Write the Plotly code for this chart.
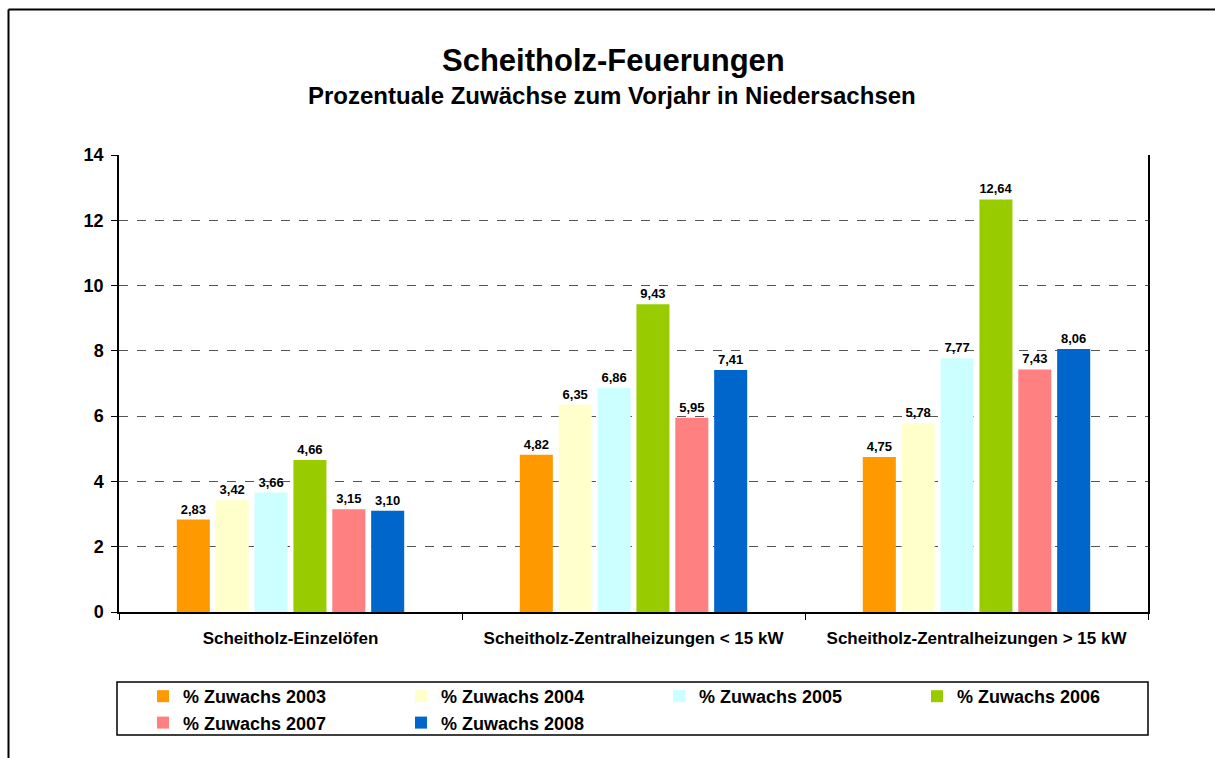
import plotly.graph_objects as go

categories = ["Scheitholz-Einzelöfen", "Scheitholz-Zentralheizungen < 15 kW", "Scheitholz-Zentralheizungen > 15 kW"]
series_names = ["% Zuwachs 2003", "% Zuwachs 2004", "% Zuwachs 2005", "% Zuwachs 2006", "% Zuwachs 2007", "% Zuwachs 2008"]
z2003 = [2.83, 4.82, 4.75]
z2004 = [3.42, 6.35, 5.78]
z2005 = [3.66, 6.86, 7.77]
z2006 = [4.66, 9.43, 12.64]
z2007 = [3.15, 5.95, 7.43]
z2008 = [3.10, 7.41, 8.06]
series_values = [z2003, z2004, z2005, z2006, z2007, z2008]
colors = ["#FF9900", "#FFFFCC", "#CCFFFF", "#99CC00", "#FF8080", "#0066CC"]
y_ticks = [0, 2, 4, 6, 8, 10, 12, 14]

FONT = "Liberation Sans, Arial, sans-serif"

fig = go.Figure()
for name, vals, col in zip(series_names, series_values, colors):
    fig.add_trace(go.Bar(
        x=categories, y=vals, name=name,
        marker=dict(color=col, line=dict(width=0)),
        texttemplate="%{y:.2f}", textposition="outside",
        textfont=dict(family=FONT, size=13, color="black", weight="bold"),
        cliponaxis=False,
    ))

W, H = 1215, 758
# screen coordinates of the plot area
SL, SR, ST, SB = 119, 1148, 155, 612
L, T, R, B = SL, ST, W - SR, H - SB
pw, ph = W - L - R, H - T - B

def px_x(x):
    return (x - L) / pw

def px_y(y):
    return (H - B - y) / ph

fig.update_layout(
    width=W, height=H,
    margin=dict(l=L, r=R, t=T, b=B),
    paper_bgcolor="white", plot_bgcolor="white",
    separators=",.",
    barmode="group", bargap=0.32, bargroupgap=0.15,
    font=dict(family=FONT, color="black"),
    showlegend=True,
    legend=dict(
        orientation="h", xref="container", yref="container",
        x=143 / W, y=1 - 678 / H, xanchor="left", yanchor="top",
        entrywidth=213, entrywidthmode="pixels",
        font=dict(family=FONT, size=18, color="black", weight="bold"),
        bgcolor="rgba(0,0,0,0)", borderwidth=0,
        tracegroupgap=0,
    ),
    xaxis=dict(
        showline=True, linecolor="black", linewidth=1.5,
        ticks="outside", tickson="boundaries", ticklen=6, tickcolor="black",
        tickfont=dict(family=FONT, size=17, color="black", weight="bold"),
        ticklabelstandoff=10,
        showgrid=False,
    ),
    yaxis=dict(
        range=[0, 14], tickvals=y_ticks,
        showline=True, linecolor="black", linewidth=1.5, mirror=True,
        ticks="outside", ticklen=6, tickcolor="black",
        tickfont=dict(family=FONT, size=18, color="black", weight="bold"),
        ticklabelstandoff=4,
        showgrid=True, gridcolor="#555555", griddash="dash", gridwidth=1,
        zeroline=False,
    ),
    annotations=[
        dict(text="Scheitholz-Feuerungen", xref="paper", yref="paper",
             x=px_x(613), y=px_y(60), showarrow=False,
             font=dict(family=FONT, size=31, color="black", weight="bold"),
             xanchor="center", yanchor="middle"),
        dict(text="Prozentuale Zuwächse zum Vorjahr in Niedersachsen", xref="paper", yref="paper",
             x=px_x(612), y=px_y(96), showarrow=False,
             font=dict(family=FONT, size=24, color="black", weight="bold"),
             xanchor="center", yanchor="middle"),
    ],
    shapes=[
        dict(type="rect", xref="paper", yref="paper",
             x0=px_x(117), x1=px_x(1148), y0=px_y(682), y1=px_y(735),
             line=dict(color="black", width=1.5), fillcolor="rgba(0,0,0,0)"),
        dict(type="line", xref="paper", yref="paper",
             x0=px_x(8.5), x1=px_x(1240), y0=px_y(9.5), y1=px_y(9.5),
             line=dict(color="black", width=2)),
        dict(type="line", xref="paper", yref="paper",
             x0=px_x(8.5), x1=px_x(8.5), y0=px_y(9.5), y1=px_y(800),
             line=dict(color="black", width=2)),
    ],
)

fig.write_html(
    "out.html",
    config={"displayModeBar": False},
    post_script="document.body.style.margin='0';document.body.style.overflow='hidden';",
)
